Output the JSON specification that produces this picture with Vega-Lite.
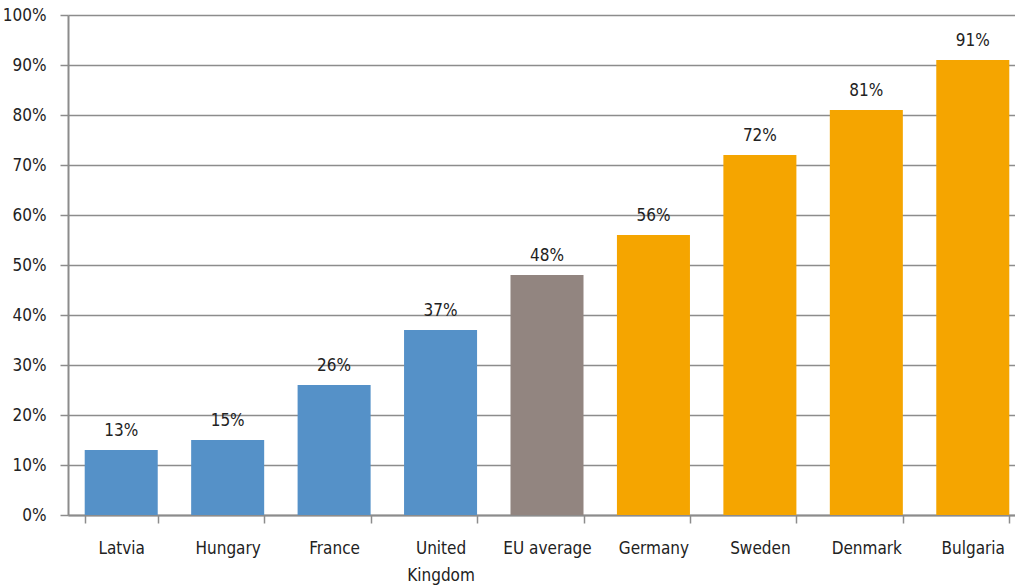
{
  "$schema": "https://vega.github.io/schema/vega-lite/v6.json",
  "width": 947,
  "height": 500,
  "autosize": {"type": "none"},
  "padding": {"left": 68, "top": 15, "right": 0, "bottom": 73},
  "background": "white",
  "config": {
    "view": {"stroke": null},
    "font": "DejaVu Sans Condensed"
  },
  "data": {
    "values": [
      {"country": "Latvia", "value": 0.13, "group": "low"},
      {"country": "Hungary", "value": 0.15, "group": "low"},
      {"country": "France", "value": 0.26, "group": "low"},
      {"country": "United Kingdom", "value": 0.37, "group": "low"},
      {"country": "EU average", "value": 0.48, "group": "eu"},
      {"country": "Germany", "value": 0.56, "group": "high"},
      {"country": "Sweden", "value": 0.72, "group": "high"},
      {"country": "Denmark", "value": 0.81, "group": "high"},
      {"country": "Bulgaria", "value": 0.91, "group": "high"}
    ]
  },
  "encoding": {
    "x": {
      "field": "country",
      "type": "nominal",
      "sort": null,
      "scale": {"range": [0, 958], "paddingInner": 0.314, "paddingOuter": 0.157},
      "axis": {
        "title": null,
        "labelAngle": 0,
        "labelFont": "DejaVu Sans Condensed",
        "labelFontSize": 17,
        "labelColor": "#222",
        "labelPadding": 17,
        "labelLineHeight": 27,
        "labelBaseline": "top",
        "labelExpr": "datum.label == 'United Kingdom' ? ['United', 'Kingdom'] : datum.label",
        "tickBand": "extent",
        "tickSize": 8,
        "tickColor": "#8c8c8c",
        "tickWidth": 1.5,
        "domainColor": "#8c8c8c",
        "domainWidth": 2,
        "grid": false
      }
    },
    "y": {
      "field": "value",
      "type": "quantitative",
      "scale": {"domain": [0, 1]},
      "axis": {
        "title": null,
        "values": [0, 0.1, 0.2, 0.3, 0.4, 0.5, 0.6, 0.7, 0.8, 0.9, 1],
        "format": ".0%",
        "labelFont": "DejaVu Sans Condensed",
        "labelFontSize": 17,
        "labelColor": "#222",
        "labelPadding": 14,
        "tickSize": 8,
        "tickColor": "#8c8c8c",
        "tickWidth": 1.5,
        "domainColor": "#8c8c8c",
        "domainWidth": 2,
        "grid": true,
        "gridColor": "#8c8c8c",
        "gridWidth": 1.5
      }
    }
  },
  "layer": [
    {
      "mark": {"type": "bar"},
      "encoding": {
        "color": {
          "field": "group",
          "type": "nominal",
          "scale": {"domain": ["low", "eu", "high"], "range": ["#5591C8", "#928580", "#F5A500"]},
          "legend": null
        }
      }
    },
    {
      "mark": {"type": "text", "baseline": "bottom", "dy": -10, "fontSize": 17, "color": "#222", "font": "DejaVu Sans Condensed"},
      "encoding": {
        "text": {"field": "value", "type": "quantitative", "format": ".0%"}
      }
    }
  ]
}
